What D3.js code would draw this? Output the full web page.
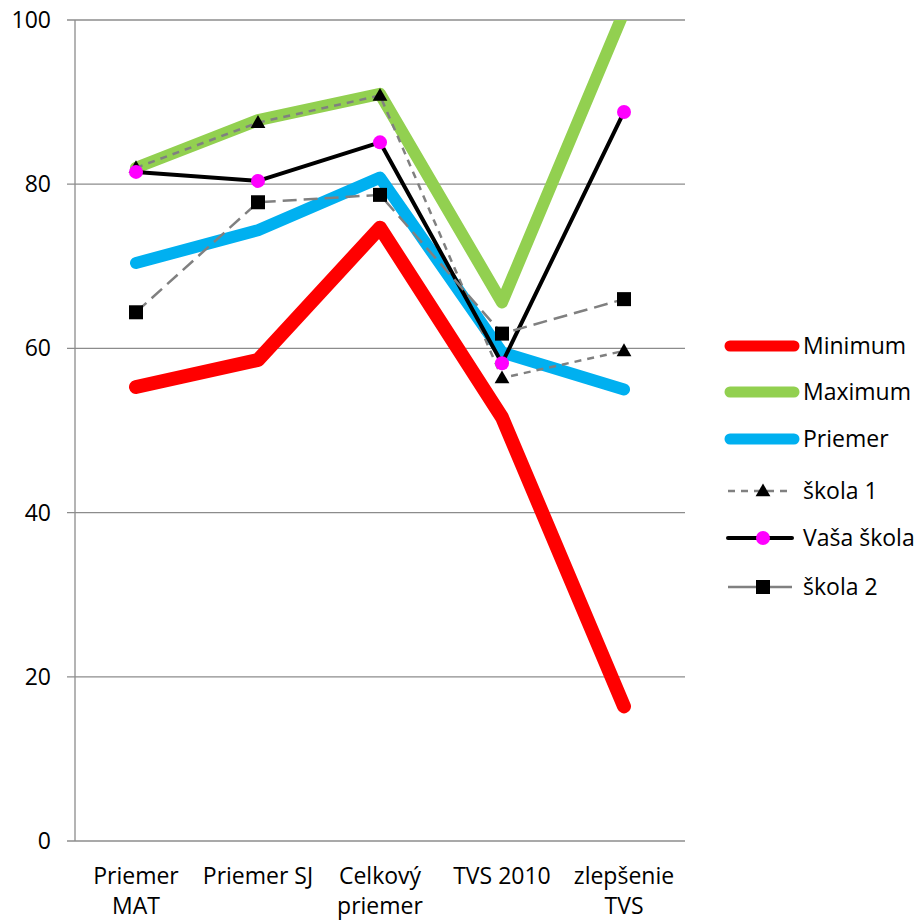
<!DOCTYPE html>
<meta charset="utf-8">
<style>
  body { margin: 0; background: #fff; }
  text { font-family: "Open Sans", Lato, sans-serif; fill: #000; }
</style>
<svg width="919" height="922"></svg>
<script src="https://d3js.org/d3.v7.min.js"></script>
<script>
var categories = [["Priemer", "MAT"], ["Priemer SJ"], ["Celkový", "priemer"], ["TVS 2010"], ["zlepšenie", "TVS"]]
var yTicks = [0, 20, 40, 60, 80, 100]

var minimum = [55.3, 58.6, 74.7, 51.6, 16.4]
var maximum = [82.0, 87.8, 91.0, 65.6, 101]
var priemer = [70.4, 74.4, 80.8, 59.5, 55.0]
var skola1 = [82.0, 87.5, 90.8, 56.4, 59.7]
var vasaSkola = [81.5, 80.4, 85.1, 58.2, 88.8]
var skola2 = [64.4, 77.8, 78.7, 61.8, 66.0]

var series = [
  { name: "Minimum", values: minimum, color: "#ff0000", width: 14, dash: null, marker: null },
  { name: "Maximum", values: maximum, color: "#92d050", width: 12, dash: null, marker: null },
  { name: "Priemer", values: priemer, color: "#00b0f0", width: 12, dash: null, marker: null },
  { name: "škola 1", values: skola1, color: "#808080", width: 2.5, dash: "7,6", marker: "triangle" },
  { name: "Vaša škola", values: vasaSkola, color: "#000000", width: 4, dash: null, marker: "circle" },
  { name: "škola 2", values: skola2, color: "#808080", width: 2.5, dash: "14,7", marker: "square" }
]

var svg = d3.select("svg")
var plotLeft = 75, plotRight = 685, plotTop = 20, plotBottom = 841

var x = d3.scaleBand().domain(d3.range(categories.length)).range([plotLeft, plotRight])
var y = d3.scaleLinear().domain([0, 100]).range([plotBottom, plotTop])
var cx = function (i) { return x(i) + x.bandwidth() / 2 }

svg.append("clipPath").attr("id", "clip").append("rect")
  .attr("x", 0).attr("y", plotTop).attr("width", 919).attr("height", 922 - plotTop)

// grid
svg.append("g").selectAll("line").data(yTicks).enter().append("line")
  .attr("x1", plotLeft - 8).attr("x2", plotRight)
  .attr("y1", function (d) { return y(d) }).attr("y2", function (d) { return y(d) })
  .attr("stroke", "#8c8c8c").attr("stroke-width", 1.3)
svg.append("line").attr("x1", plotLeft).attr("x2", plotLeft).attr("y1", plotTop).attr("y2", plotBottom)
  .attr("stroke", "#8c8c8c").attr("stroke-width", 1.3)

svg.append("g").selectAll("text").data(yTicks).enter().append("text")
  .attr("x", 51).attr("y", function (d) { return y(d) + 8 })
  .attr("text-anchor", "end").attr("font-size", 23)
  .text(function (d) { return d })

var xl = svg.append("g").selectAll("text").data(categories).enter().append("text")
  .attr("text-anchor", "middle").attr("font-size", 23)
xl.each(function (lines, i) {
  d3.select(this).selectAll("tspan").data(lines).enter().append("tspan")
    .attr("x", cx(i)).attr("y", function (d, j) { return 884 + j * 30 })
    .text(function (d) { return d })
})

var line = d3.line().x(function (d, i) { return cx(i) }).y(function (d) { return y(d) })

function drawMarker(g, type, px, py) {
  if (type === "triangle") {
    g.append("path").attr("d", d3.symbol().type(d3.symbolTriangle).size(95)())
      .attr("transform", "translate(" + px + "," + (py + 1) + ")").attr("fill", "#000")
  } else if (type === "circle") {
    g.append("circle").attr("cx", px).attr("cy", py).attr("r", 7).attr("fill", "#ff00ff")
  } else if (type === "square") {
    g.append("rect").attr("x", px - 7).attr("y", py - 7).attr("width", 14).attr("height", 14).attr("fill", "#000")
  }
}

var plot = svg.append("g").attr("clip-path", "url(#clip)")
series.forEach(function (s) {
  plot.append("path").datum(s.values).attr("d", line)
    .attr("fill", "none").attr("stroke", s.color).attr("stroke-width", s.width)
    .attr("stroke-linejoin", "round").attr("stroke-linecap", s.dash ? "butt" : "round")
    .attr("stroke-dasharray", s.dash)
  if (s.marker) {
    var mg = plot.append("g")
    s.values.forEach(function (v, i) { drawMarker(mg, s.marker, cx(i), y(v)) })
  }
})

// legend
var legendY = [346, 392, 439, 491, 538, 587]
var legend = svg.append("g")
series.forEach(function (s, i) {
  var ly = legendY[i]
  var x1 = s.marker ? 728 : 730, x2 = s.marker ? 792 : 794
  legend.append("line").attr("x1", x1).attr("x2", x2).attr("y1", ly).attr("y2", ly)
    .attr("stroke", s.color).attr("stroke-width", s.marker ? s.width : 11)
    .attr("stroke-linecap", s.dash ? "butt" : "round").attr("stroke-dasharray", s.marker === "triangle" ? "7,6" : null)
  if (s.marker) drawMarker(legend, s.marker, 763, ly)
  legend.append("text").attr("x", 803).attr("y", ly + 8)
    .attr("font-size", 23).text(s.name)
})
</script>
